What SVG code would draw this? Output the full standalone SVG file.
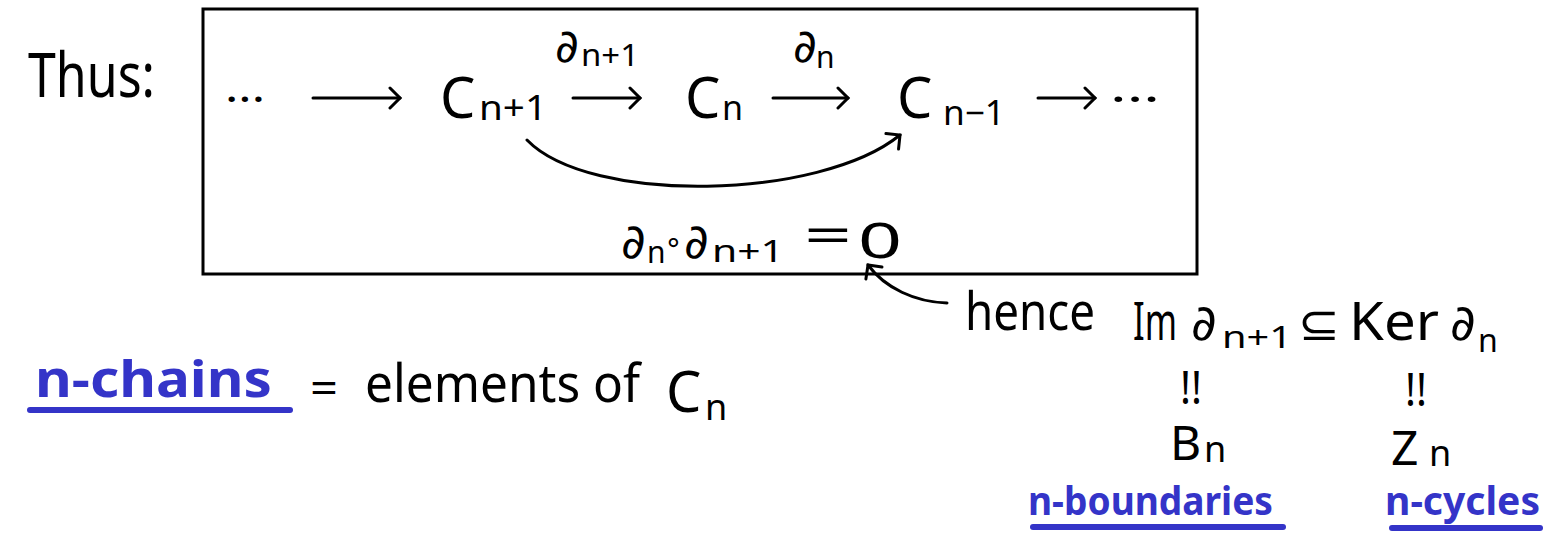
<svg xmlns="http://www.w3.org/2000/svg" width="1546" height="533" viewBox="0 0 1546 533">
<style>
  text { font-family: "Noto Sans", "DejaVu Sans", sans-serif; fill: #000; }
  .big { font-size: 56px; }
  .sub { font-size: 34px; }
  .blue { fill: #3434c8; font-weight: bold; }
  .conn { fill: none; stroke: #000; stroke-width: 3; stroke-linecap: round; }
  .ul { stroke: #3434c8; stroke-width: 6; stroke-linecap: round; }
</style>
<defs>
  <marker id="head" markerUnits="userSpaceOnUse" markerWidth="30" markerHeight="30" refX="14" refY="12" orient="auto" viewBox="0 0 30 30">
    <path d="M4,2 Q10,8 14,12 Q10,16 4,22" fill="none" stroke="#000" stroke-width="3" stroke-linecap="round"/>
  </marker>
</defs>
<rect id="frame" x="203" y="9" width="994" height="265" fill="none" stroke="#000" stroke-width="3"/>
<g id="thus"><text x="28" y="97" font-size="62" textLength="127" lengthAdjust="spacingAndGlyphs">Thus:</text></g>
<g id="dots-left"><text x="225" y="102" font-size="40" textLength="40" lengthAdjust="spacingAndGlyphs">...</text></g>
<g id="c-n-plus-1"><text class="big" x="440" y="118">C</text><text class="sub" x="479" y="120" textLength="68" lengthAdjust="spacingAndGlyphs">n+1</text></g>
<g id="c-n"><text class="big" x="685" y="118">C</text><text class="sub" x="722" y="120">n</text></g>
<g id="c-n-minus-1"><text class="big" x="897" y="118">C</text><text class="sub" x="943" y="125" textLength="62" lengthAdjust="spacingAndGlyphs">n−1</text></g>
<g id="dots-right"><text x="1110" y="102" font-size="40" textLength="50" lengthAdjust="spacingAndGlyphs">...</text></g>
<g id="label-d-n-plus-1"><text x="555" y="62" font-size="46">∂</text><text x="581" y="66" font-size="30" textLength="58" lengthAdjust="spacingAndGlyphs">n+1</text></g>
<g id="label-d-n"><text x="793" y="62" font-size="46">∂</text><text x="816" y="68" font-size="30">n</text></g>
<g id="connectors">
  <line class="conn" x1="313" y1="98" x2="400" y2="98" marker-end="url(#head)"/>
  <line class="conn" x1="573" y1="98" x2="640" y2="98" marker-end="url(#head)"/>
  <line class="conn" x1="773" y1="98" x2="848" y2="98" marker-end="url(#head)"/>
  <line class="conn" x1="1038" y1="98" x2="1095" y2="98" marker-end="url(#head)"/>
  <path class="conn" d="M527,140 C590,205 820,200 900,135" marker-end="url(#head)"/>
  <path class="conn" d="M947,303 C915,302 885,288 868,265" marker-end="url(#head)"/>
</g>
<g id="composition">
  <text x="621" y="258" font-size="48">∂</text><text x="647" y="263" font-size="30">n</text>
  <text x="664" y="252" font-size="30">∘</text>
  <text x="684" y="258" font-size="48">∂</text><text x="712" y="262" font-size="30" textLength="72" lengthAdjust="spacingAndGlyphs">n+1</text>
  <text x="804" y="253" font-size="50" textLength="48" lengthAdjust="spacingAndGlyphs">=</text>
  <text x="858" y="258" font-size="50" textLength="44" lengthAdjust="spacingAndGlyphs">0</text>
</g>
<g id="hence-statement">
  <text x="965" y="330" font-size="52" textLength="130" lengthAdjust="spacingAndGlyphs">hence</text>
  <text x="1133" y="340" font-size="52" textLength="44" lengthAdjust="spacingAndGlyphs">Im</text>
  <text x="1191" y="340" font-size="50">∂</text><text x="1222" y="348" font-size="30" textLength="70" lengthAdjust="spacingAndGlyphs">n+1</text>
  <text x="1298" y="340" font-size="46" textLength="42" lengthAdjust="spacingAndGlyphs">⊆</text>
  <text x="1349" y="340" font-size="52" textLength="90" lengthAdjust="spacingAndGlyphs">Ker</text>
  <text x="1450" y="340" font-size="50">∂</text><text x="1478" y="352" font-size="32">n</text>
</g>
<g id="eq-b"><text x="1180" y="404" font-size="46" textLength="22" lengthAdjust="spacingAndGlyphs">!!</text></g>
<g id="eq-z"><text x="1405" y="406" font-size="46" textLength="22" lengthAdjust="spacingAndGlyphs">!!</text></g>
<g id="b-n"><text x="1170" y="460" font-size="48">B</text><text x="1204" y="462" font-size="36">n</text></g>
<g id="z-n"><text x="1391" y="465" font-size="48">Z</text><text x="1429" y="466" font-size="36">n</text></g>
<g id="n-boundaries"><text class="blue" x="1028" y="515" font-size="40" textLength="245" lengthAdjust="spacingAndGlyphs">n-boundaries</text><line class="ul" x1="1033" y1="527" x2="1283" y2="527"/></g>
<g id="n-cycles"><text class="blue" x="1385" y="515" font-size="40" textLength="155" lengthAdjust="spacingAndGlyphs">n-cycles</text><line class="ul" x1="1392" y1="528" x2="1540" y2="528"/></g>
<g id="n-chains"><text class="blue" x="35" y="397" font-size="50" textLength="237" lengthAdjust="spacingAndGlyphs">n-chains</text><line class="ul" x1="30" y1="410" x2="290" y2="410"/></g>
<g id="chains-def">
  <text x="310" y="404" font-size="44" textLength="28" lengthAdjust="spacingAndGlyphs">=</text>
  <text x="365" y="402" font-size="52" textLength="275" lengthAdjust="spacingAndGlyphs">elements of</text>
  <text class="big" x="666" y="412">C</text><text x="705" y="420" font-size="36">n</text>
</g>
</svg>
